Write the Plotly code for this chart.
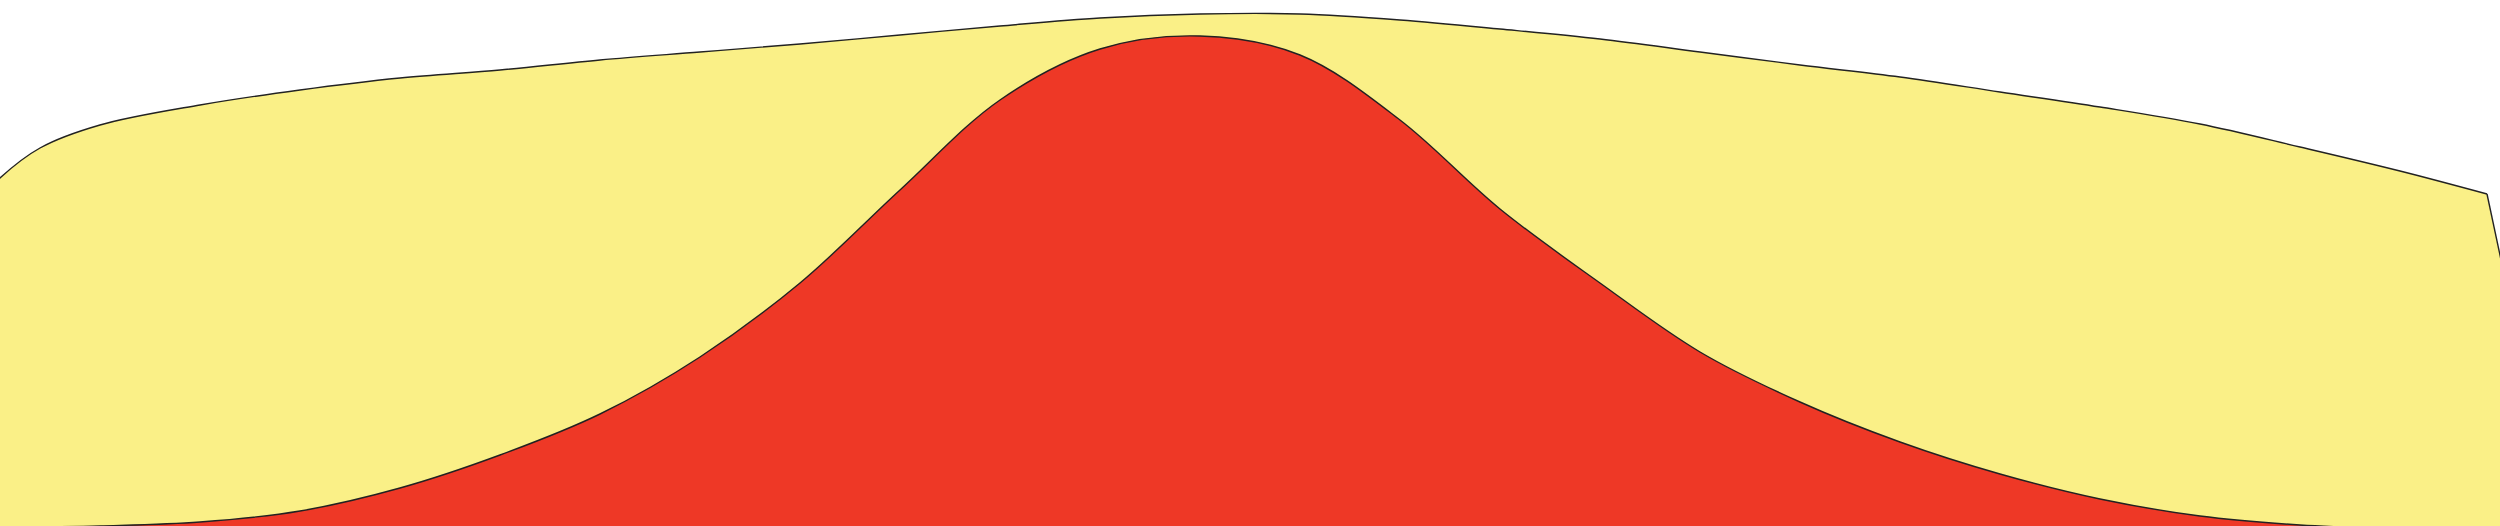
#!/usr/bin/env python3
"""
Layered stream chart: a wide yellow band with a red bell-shaped band on top
"""

import plotly.graph_objects as go

# Horizontal positions and band heights
yellow_x = [-20, 0, 40, 100, 200, 300, 400, 500, 600, 700, 800, 900, 1000,
            1100, 1200, 1300, 1400, 1500, 1600, 1700, 1800, 1900, 2000,
            2100, 2200, 2300, 2400, 2487]
yellow_y = [326, 348, 378, 401, 421, 436, 448, 456, 466, 474, 482, 491, 500,
            508, 512, 512, 506, 497, 487, 474, 461, 449, 434,
            419, 402, 379, 355, 332]

# straight edge at the right end of the yellow band
edge_x = [2487, 2520]
edge_y = [332, 177]

red_x = [-100, 0, 100, 200, 300, 400, 500, 600, 700, 800, 900, 1000, 1100,
         1200, 1300, 1400, 1500, 1600, 1700, 1800, 1900, 2000, 2100, 2200,
         2300, 2400, 2500]
red_y = [-9, -2, 0, 4, 15, 38, 71, 112, 169, 243, 336, 426, 477,
         490, 471, 406, 317, 243, 174, 124, 84, 52, 27, 10,
         1, -3, -6]

YELLOW = '#FAF087'
RED = '#EE3826'
OUTLINE = '#222222'


def build_figure():
    """Stack the two bands"""
    fig = go.Figure()

    fig.add_trace(go.Scatter(
        x=yellow_x, y=yellow_y,
        mode='lines',
        line=dict(color=OUTLINE, width=1.4, shape='spline', smoothing=1),
        fill='tozeroy', fillcolor=YELLOW,
        hoverinfo='skip', showlegend=False
    ))

    fig.add_trace(go.Scatter(
        x=edge_x, y=edge_y,
        mode='lines',
        line=dict(color=OUTLINE, width=1.4),
        fill='tozeroy', fillcolor=YELLOW,
        hoverinfo='skip', showlegend=False
    ))

    fig.add_trace(go.Scatter(
        x=red_x, y=red_y,
        mode='lines',
        line=dict(color=OUTLINE, width=1.4, shape='spline', smoothing=1),
        fill='tozeroy', fillcolor=RED,
        hoverinfo='skip', showlegend=False
    ))

    fig.update_layout(
        width=2500,
        height=526,
        margin=dict(l=0, r=0, t=0, b=0),
        paper_bgcolor='white',
        plot_bgcolor='white',
        showlegend=False
    )
    fig.update_xaxes(range=[0, 2500], visible=False, fixedrange=True)
    fig.update_yaxes(range=[0, 526], visible=False, fixedrange=True)
    return fig


def main():
    fig = build_figure()
    # page margin off so the figure sits flush in the window
    fig.write_html(
        "out.html",
        config={'displayModeBar': False},
        post_script="document.body.style.margin='0';"
                    "document.body.style.overflow='hidden';"
    )


if __name__ == "__main__":
    main()
